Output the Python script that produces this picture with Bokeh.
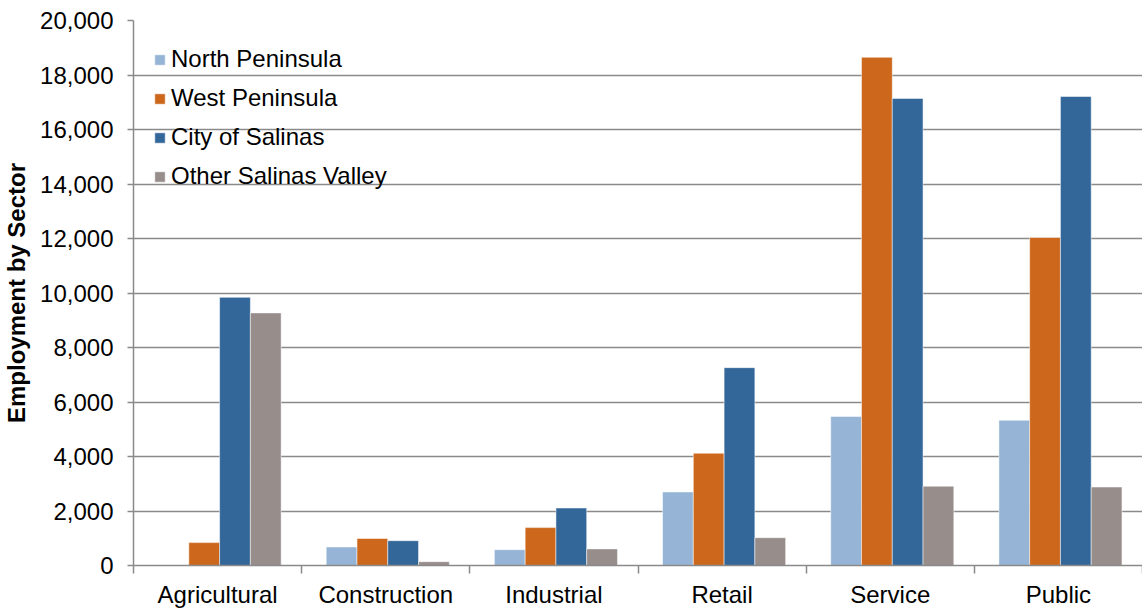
from bokeh.plotting import figure
from bokeh.models import ColumnDataSource, Range1d, FixedTicker, CustomJSTickFormatter, NumeralTickFormatter
from bokeh.transform import dodge
from bokeh.embed import file_html
from bokeh.resources import INLINE

sectors = ["Agricultural", "Construction", "Industrial", "Retail", "Service", "Public"]
north_peninsula = [0, 680, 580, 2700, 5470, 5330]
west_peninsula = [840, 990, 1390, 4120, 18650, 12040]
city_of_salinas = [9840, 910, 2110, 7260, 17140, 17210]
other_salinas_valley = [9270, 140, 610, 1020, 2910, 2880]
series_names = ["North Peninsula", "West Peninsula", "City of Salinas", "Other Salinas Valley"]
series_colors = ["#95B4D6", "#CC671B", "#336699", "#978D8B"]
y_ticks = list(range(0, 20001, 2000))

source = ColumnDataSource(data=dict(
    idx=[i + 0.5 for i in range(len(sectors))],
    north=north_peninsula,
    west=west_peninsula,
    city=city_of_salinas,
    other=other_salinas_valley,
))

FONT = "Liberation Sans"

p = figure(width=1142, height=610, output_backend="svg", toolbar_location=None,
           x_range=Range1d(0, len(sectors)), y_range=Range1d(0, 20000),
           min_border_left=130, min_border_right=0, min_border_top=20, min_border_bottom=43)
p.outline_line_color = None
p.background_fill_color = "white"
p.border_fill_color = "white"

bar_w = 0.183
cols = ["north", "west", "city", "other"]
for k, (col, name, color) in enumerate(zip(cols, series_names, series_colors)):
    off = (k - 1.5) * bar_w + 0.012
    p.vbar(x=dodge("idx", off, range=p.x_range), top=col, width=bar_w, bottom=0,
           source=source, fill_color=color, line_color="white", line_alpha=0.5, line_width=1,
           legend_label=name)

# y axis
yax = p.yaxis[0]
yax.ticker = FixedTicker(ticks=y_ticks)
yax.formatter = NumeralTickFormatter(format="0,0")
yax.axis_label = "Employment by Sector"
yax.axis_label_text_font = FONT
yax.axis_label_text_font_style = "bold"
yax.axis_label_text_font_size = "24px"
yax.axis_label_text_color = "black"
yax.axis_label_standoff = 7
yax.major_label_text_font = FONT
yax.major_label_text_font_size = "24px"
yax.major_label_text_color = "black"
yax.major_label_standoff = 14
yax.axis_line_color = "#8a8a8a"
yax.axis_line_width = 1.5
yax.major_tick_line_color = "#8a8a8a"
yax.major_tick_line_width = 1.5
yax.major_tick_out = 6
yax.major_tick_in = 0
yax.minor_tick_line_color = None

# x axis
xax = p.xaxis[0]
xax.ticker = FixedTicker(ticks=[i + 0.5 for i in range(len(sectors))],
                         minor_ticks=list(range(len(sectors) + 1)))
xax.formatter = CustomJSTickFormatter(args=dict(labels=sectors),
                                      code="return labels[Math.round(tick - 0.5)];")
xax.major_label_text_font = FONT
xax.major_label_text_font_size = "24px"
xax.major_label_text_color = "black"
xax.major_label_standoff = 7
xax.major_tick_line_color = None
xax.major_tick_out = 0
xax.major_tick_in = 0
xax.minor_tick_line_color = "#8a8a8a"
xax.minor_tick_line_width = 1.5
xax.minor_tick_out = 8
xax.minor_tick_in = 0
xax.axis_line_color = "#8a8a8a"
xax.axis_line_width = 1.5

p.xgrid.grid_line_color = None
p.ygrid.ticker = FixedTicker(ticks=y_ticks)
p.ygrid.grid_line_color = "#8a8a8a"
p.ygrid.grid_line_width = 1.5

lg = p.legend[0]
lg.location = "top_left"
lg.margin = 20
lg.padding = 0
lg.border_line_color = None
lg.background_fill_alpha = 0
lg.label_text_font = FONT
lg.label_text_font_size = "24px"
lg.label_text_color = "black"
lg.glyph_width = 13
lg.glyph_height = 13
lg.label_height = 38
lg.spacing = 1
lg.label_standoff = 5

open("out.html", "w").write(file_html(p, INLINE))
